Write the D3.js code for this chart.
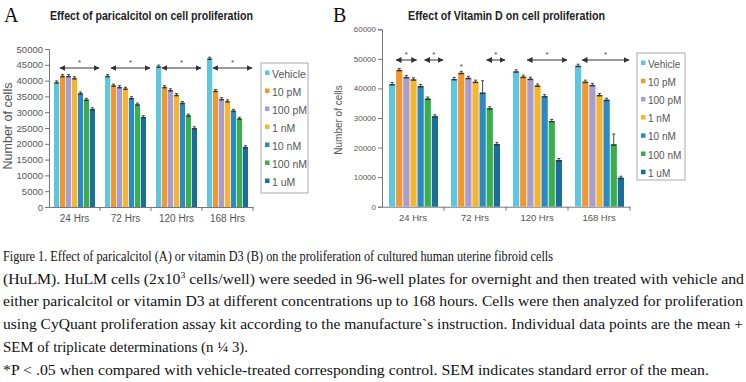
<!DOCTYPE html>
<html>
<head>
<meta charset="utf-8">
<script src="https://cdn.jsdelivr.net/npm/d3@7"></script>
<style>
  body { margin: 0; background: #fff; }
  svg { display: block; }
  text { font-family: "Liberation Sans", Arial, sans-serif; }
  .serif { font-family: "Liberation Serif", "Times New Roman", serif; }
</style>
</head>
<body>
<svg id="fig" width="746" height="382"></svg>
<script>
//categories and series
const timePoints = ["24 Hrs", "72 Hrs", "120 Hrs", "168 Hrs"];
const treatments = ["Vehicle", "10 pM", "100 pM", "1 nM", "10 nM", "100 nM", "1 uM"];
const treatmentColors = ["#5fc6df", "#f2962f", "#a89dcf", "#f6b52e", "#2b8ac6", "#3aae4c", "#1a6d9d"];

//panel A: paricalcitol, one row per time point, one value per treatment
const paricalcitolMeans = [
  [39500, 41500, 41500, 40800, 36000, 34000, 31000],
  [41500, 38500, 38000, 37500, 34500, 32500, 28500],
  [44500, 38000, 37000, 35500, 33000, 29000, 25000],
  [47000, 36800, 34200, 33500, 30500, 28000, 19000]
];
const paricalcitolSem = [
  [400, 400, 400, 400, 400, 400, 400],
  [400, 400, 400, 400, 400, 400, 400],
  [400, 400, 400, 400, 400, 400, 400],
  [400, 400, 400, 400, 400, 400, 400]
];
const paricalcitolTicks = [0, 5000, 10000, 15000, 20000, 25000, 30000, 35000, 40000, 45000, 50000];

//panel B: vitamin D
const vitaminDMeans = [
  [41500, 46300, 43900, 43100, 40800, 36600, 30600],
  [43200, 45300, 43600, 42300, 38600, 33300, 21200],
  [45800, 44000, 43300, 41000, 37400, 29000, 15800],
  [47700, 42300, 41200, 37800, 36200, 21100, 9800]
];
const vitaminDSem = [
  [500, 500, 500, 500, 500, 500, 500],
  [500, 500, 500, 500, 4000, 500, 500],
  [500, 500, 500, 500, 500, 500, 500],
  [500, 500, 500, 500, 500, 3500, 500]
];
const vitaminDTicks = [0, 10000, 20000, 30000, 40000, 50000, 60000];

//significance arrows: time point, first / last treatment covered (null = band end)
const paricalcitolArrows = [
  {time: "24 Hrs", from: "10 pM", to: null},
  {time: "72 Hrs", from: "10 pM", to: null},
  {time: "120 Hrs", from: "10 pM", to: null},
  {time: "168 Hrs", from: "10 pM", to: null}
];
const vitaminDArrows = [
  {time: "24 Hrs", from: "10 pM", to: "1 nM"},
  {time: "24 Hrs", from: "100 nM", to: null},
  {time: "72 Hrs", from: "100 nM", to: null},
  {time: "120 Hrs", from: "100 pM", to: null},
  {time: "168 Hrs", from: "10 pM", to: null}
];
//lone star over a single bar
const vitaminDStars = [{time: "72 Hrs", over: "10 pM"}];

const captionLines = [
  "Figure 1. Effect of paricalcitol (A) or vitamin D3 (B) on the proliferation of cultured human uterine fibroid cells",
  ["(HuLM). HuLM cells (2x10", "3", " cells/well) were seeded in 96-well plates for overnight and then treated with vehicle and"],
  "either paricalcitol or vitamin D3 at different concentrations up to 168 hours. Cells were then analyzed for proliferation",
  "using CyQuant proliferation assay kit according to the manufacture`s instruction. Individual data points are the mean +",
  "SEM of triplicate determinations (n \u00bc 3).",
  "*P < .05 when compared with vehicle-treated corresponding control. SEM indicates standard error of the mean."
];
const captionWidths = [550, 741, 740, 740, 245, 706];

let svg = d3.select("#fig");

svg.append("defs").append("marker")
  .attr("id", "head")
  .attr("viewBox", "0 0 10 10")
  .attr("refX", 9).attr("refY", 5)
  .attr("markerWidth", 6).attr("markerHeight", 6)
  .attr("orient", "auto-start-reverse")
  .append("path")
  .attr("d", "M0,0 L10,5 L0,10 z")
  .attr("fill", "#333");

//draw one panel
function drawPanel(p){
  let g = svg.append("g");

  let x = d3.scaleBand().domain(timePoints).range([p.left, p.right]);
  let xs = d3.scaleBand().domain(treatments).range(p.inner).paddingInner(0.12);
  let y = d3.scaleLinear().domain([0, p.max]).range([p.bottom, p.top]);

  //panel letter + title
  g.append("text").attr("class", "serif")
    .attr("x", p.letterX).attr("y", 22)
    .style("font-size", "20px").attr("fill", "#111")
    .text(p.letter);
  g.append("text")
    .attr("x", p.titleX).attr("y", 20)
    .attr("textLength", p.titleW).attr("lengthAdjust", "spacingAndGlyphs")
    .style("font-size", "12.5px").style("font-weight", "bold").attr("fill", "#222")
    .text(p.title);

  //axes
  let yAxis = g.append("g")
    .attr("transform", "translate(" + p.left + ",0)")
    .call(d3.axisLeft(y).tickValues(p.ticks).tickSize(4).tickPadding(2).tickFormat(d3.format("d")));
  yAxis.selectAll("text").style("font-size", p.tickFont).attr("fill", "#555");
  yAxis.selectAll("line, path").attr("stroke", "#777");

  let xAxis = g.append("g")
    .attr("transform", "translate(0," + p.bottom + ")")
    .call(d3.axisBottom(x).tickSize(0).tickPadding(8));
  xAxis.selectAll("text").style("font-size", p.catFont).attr("fill", "#555");
  xAxis.select(".domain").attr("stroke", "#777");
  //separator ticks between groups
  xAxis.selectAll(".sep")
    .data(timePoints.slice(1).concat([null]))
    .enter().append("line")
    .attr("x1", function(d){ return d ? x(d) : p.right; })
    .attr("x2", function(d){ return d ? x(d) : p.right; })
    .attr("y1", 0).attr("y2", 4)
    .attr("stroke", "#777");

  //axis title
  g.append("text")
    .attr("transform", "translate(" + p.yLabelX + "," + p.yLabelY + ") rotate(-90)")
    .attr("text-anchor", "middle")
    .style("font-size", p.yLabelFont).attr("fill", "#555")
    .text("Number of cells");

  //bars
  let groups = g.selectAll(".grp")
    .data(timePoints)
    .enter().append("g")
    .attr("transform", function(d){ return "translate(" + x(d) + ",0)"; });

  groups.each(function(t, i){
    let grp = d3.select(this);
    let rows = treatments.map(function(name, j){
      return {name: name, value: p.means[i][j], sem: p.sem[i][j], color: treatmentColors[j]};
    });
    grp.selectAll("rect")
      .data(rows)
      .enter().append("rect")
      .attr("x", function(d){ return xs(d.name); })
      .attr("y", function(d){ return y(d.value); })
      .attr("width", xs.bandwidth())
      .attr("height", function(d){ return p.bottom - y(d.value); })
      .attr("fill", function(d){ return d.color; });
    //error bars
    grp.selectAll(".err")
      .data(rows)
      .enter().append("path")
      .attr("d", function(d){
        let cx = xs(d.name) + xs.bandwidth() / 2;
        let y0 = y(d.value), y1 = y(d.value + d.sem);
        return "M" + cx + "," + (y0 + 1) + "V" + y1 + "M" + (cx - 1.5) + "," + y1 + "H" + (cx + 1.5);
      })
      .attr("stroke", "#444").attr("stroke-width", 1).attr("fill", "none");
    grp.selectAll(".cap")
      .data(rows)
      .enter().append("line")
      .attr("x1", function(d){ return xs(d.name) + 0.5; })
      .attr("x2", function(d){ return xs(d.name) + xs.bandwidth() - 0.5; })
      .attr("y1", function(d){ return y(d.value) + 0.8; })
      .attr("y2", function(d){ return y(d.value) + 0.8; })
      .attr("stroke", "#333").attr("stroke-width", 1.4);
  });

  //significance arrows
  p.arrows.forEach(function(a){
    let x0 = x(a.time) + xs(a.from);
    let x1 = a.to ? x(a.time) + xs(a.to) + xs.bandwidth() : x(a.time) + x.bandwidth() - 1;
    g.append("line")
      .attr("x1", x0).attr("x2", x1)
      .attr("y1", p.arrowY).attr("y2", p.arrowY)
      .attr("stroke", "#333").attr("stroke-width", 1)
      .attr("marker-start", "url(#head)").attr("marker-end", "url(#head)");
    g.append("text")
      .attr("x", (x0 + x1) / 2).attr("y", p.arrowY - 3)
      .attr("text-anchor", "middle")
      .style("font-size", "8px").attr("fill", "#444")
      .text("*");
  });
  (p.stars || []).forEach(function(s){
    let i = timePoints.indexOf(s.time), j = treatments.indexOf(s.over);
    g.append("text")
      .attr("x", x(s.time) + xs(s.over) + xs.bandwidth() / 2)
      .attr("y", y(p.means[i][j] + p.sem[i][j]) - 2)
      .attr("text-anchor", "middle")
      .style("font-size", "8px").attr("fill", "#444")
      .text("*");
  });

  //legend
  let lg = g.append("g");
  lg.append("rect")
    .attr("x", p.legend.x).attr("y", p.legend.y)
    .attr("width", p.legend.w).attr("height", p.legend.h)
    .attr("fill", "#fff").attr("stroke", "#aaa");
  let items = lg.selectAll(".item")
    .data(treatments)
    .enter().append("g")
    .attr("transform", function(d, i){
      return "translate(" + (p.legend.x + 4) + "," + (p.legend.y + 11 + i * p.legend.step) + ")";
    });
  items.append("rect")
    .attr("x", 0).attr("y", -3.5).attr("width", 4.5).attr("height", 4.5)
    .attr("fill", function(d, i){ return treatmentColors[i]; });
  items.append("text")
    .attr("x", 7).attr("y", 0).attr("dy", "0.35em")
    .style("font-size", p.legend.font).attr("fill", "#555")
    .text(function(d){ return d; });
}

drawPanel({
  letter: "A", letterX: 4, title: "Effect of paricalcitol on cell proliferation", titleX: 50, titleW: 203,
  left: 49, right: 253, top: 49, bottom: 207, max: 50000,
  inner: [5, 46], ticks: paricalcitolTicks, tickFont: "9.5px", catFont: "10px",
  yLabelX: 12, yLabelY: 126, yLabelFont: "12.5px",
  means: paricalcitolMeans, sem: paricalcitolSem,
  arrows: paricalcitolArrows, arrowY: 68,
  legend: {x: 261, y: 63, w: 47, h: 130, step: 18, font: "10.5px"}
});

drawPanel({
  letter: "B", letterX: 333, title: "Effect of Vitamin D on cell proliferation", titleX: 408, titleW: 197,
  left: 382, right: 630, top: 29.3, bottom: 206.7, max: 60000,
  inner: [7, 56], ticks: vitaminDTicks, tickFont: "8px", catFont: "9.5px",
  yLabelX: 342, yLabelY: 120, yLabelFont: "10px",
  means: vitaminDMeans, sem: vitaminDSem,
  arrows: vitaminDArrows, arrowY: 60, stars: vitaminDStars,
  legend: {x: 637, y: 53, w: 48, h: 127, step: 18.2, font: "10px"}
});

//caption
let caption = svg.append("g").attr("class", "serif");
captionLines.forEach(function(line, i){
  let t = caption.append("text")
    .attr("class", "serif")
    .attr("x", 3).attr("y", 261 + i * 22.7)
    .attr("textLength", captionWidths[i])
    .attr("lengthAdjust", "spacingAndGlyphs")
    .style("font-size", "14.5px").attr("fill", "#111");
  if(Array.isArray(line)){
    t.append("tspan").text(line[0]);
    t.append("tspan").attr("dy", -6).style("font-size", "9px").text(line[1]);
    t.append("tspan").attr("dy", 6).text(line[2]);
  } else {
    t.text(line);
  }
});
</script>
</body>
</html>
